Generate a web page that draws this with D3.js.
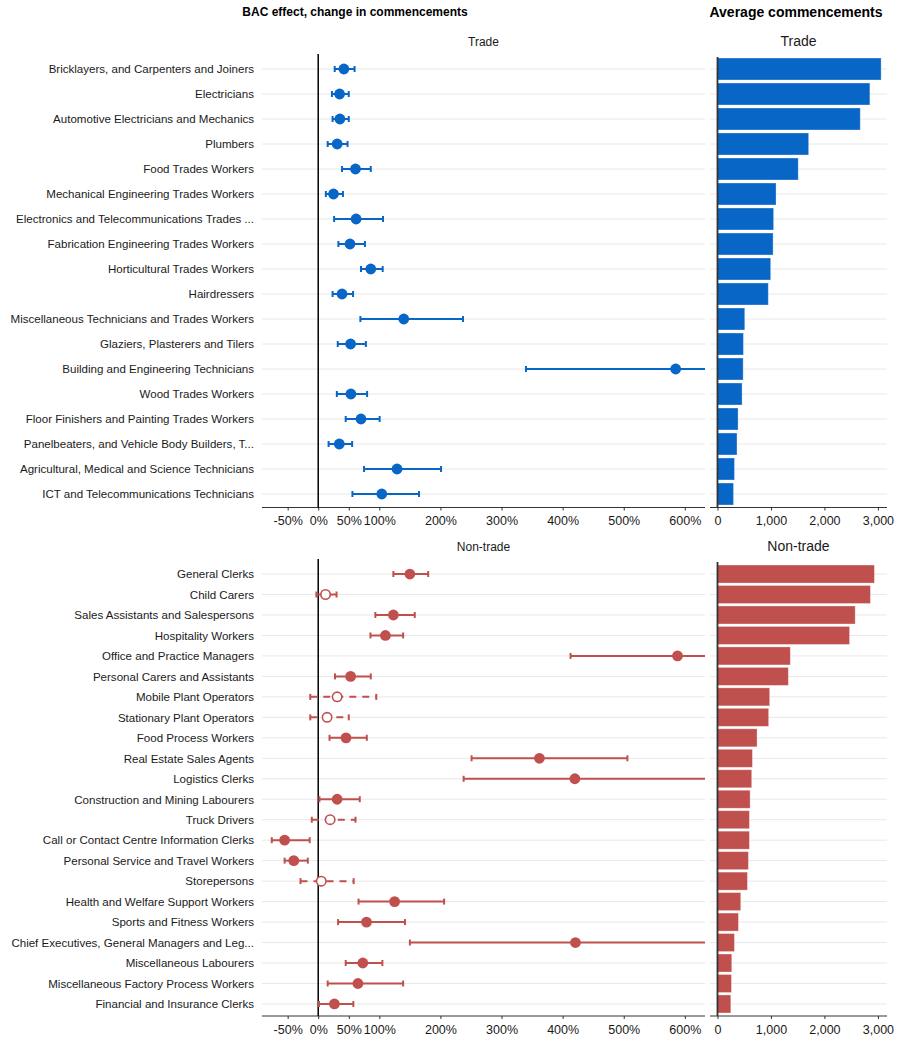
<!DOCTYPE html>
<html>
<head>
<meta charset="utf-8">
<script src="https://cdn.jsdelivr.net/npm/d3@7"></script>
<style>
  body { margin: 0; background: #fff; }
  svg { font-family: Arial, "Liberation Sans", sans-serif; }
</style>
</head>
<body>
<div id="chart"></div>
<script>
// ---- data ----
const tradeCats = [
  "Bricklayers, and Carpenters and Joiners",
  "Electricians",
  "Automotive Electricians and Mechanics",
  "Plumbers",
  "Food Trades Workers",
  "Mechanical Engineering Trades Workers",
  "Electronics and Telecommunications Trades ...",
  "Fabrication Engineering Trades Workers",
  "Horticultural Trades Workers",
  "Hairdressers",
  "Miscellaneous Technicians and Trades Workers",
  "Glaziers, Plasterers and Tilers",
  "Building and Engineering Technicians",
  "Wood Trades Workers",
  "Floor Finishers and Painting Trades Workers",
  "Panelbeaters, and Vehicle Body Builders, T...",
  "Agricultural, Medical and Science Technicians",
  "ICT and Telecommunications Technicians"
];
const tradeEst = [42, 35, 35.5, 31, 61, 25, 62, 52, 86, 39, 140, 53, 585, 53.5, 70, 34.5, 129, 104];
const tradeLo  = [27, 22.5, 23.5, 15.5, 39, 12.5, 26, 33, 70, 23.5, 69, 32, 340, 30.5, 45, 17, 75, 56];
const tradeHi  = [59.5, 50, 50, 48, 86, 40.5, 106, 76.5, 105.5, 57, 237, 78, 830, 80, 100.5, 55.5, 201, 165];
const tradeAvg = [3060, 2850, 2670, 1705, 1510, 1095, 1050, 1040, 995, 950, 510, 485, 480, 460, 385, 365, 318, 300];

const nontradeCats = [
  "General Clerks",
  "Child Carers",
  "Sales Assistants and Salespersons",
  "Hospitality Workers",
  "Office and Practice Managers",
  "Personal Carers and Assistants",
  "Mobile Plant Operators",
  "Stationary Plant Operators",
  "Food Process Workers",
  "Real Estate Sales Agents",
  "Logistics Clerks",
  "Construction and Mining Labourers",
  "Truck Drivers",
  "Call or Contact Centre Information Clerks",
  "Personal Service and Travel Workers",
  "Storepersons",
  "Health and Welfare Support Workers",
  "Sports and Fitness Workers",
  "Chief Executives, General Managers and Leg...",
  "Miscellaneous Labourers",
  "Miscellaneous Factory Process Workers",
  "Financial and Insurance Clerks"
];
const nontradeEst = [150, 12, 123, 110, 588, 53, 31, 14.5, 45.5, 362, 420, 31, 19.5, -55, -40, 5, 125, 79, 421, 73, 65, 26.5];
const nontradeLo  = [123, -3, 93.5, 85.5, 413, 27.5, -13, -13, 18.5, 251, 238, 2, -10.5, -76, -55, -29, 66, 32.5, 150, 45, 15.5, 1.3];
const nontradeHi  = [180, 30, 158, 139, 780, 86, 95, 50, 79.5, 506, 720, 68, 61, -14, -17, 58, 206, 142, 700, 105, 139, 57.5];
const nontradeAvg = [2935, 2860, 2575, 2470, 1362, 1325, 976, 957, 740, 653, 640, 610, 597, 597, 578, 560, 435, 392, 317, 267, 261, 249];

const effectTicks = [-50, 0, 50, 100, 200, 300, 400, 500, 600];
const avgTicks = [0, 1000, 2000, 3000];

const blue = "#0866c6";
const red = "#c0504d";
const gridCol = "#e8e8e8";

const width = 902, height = 1043;

const svg = d3.select("#chart").append("svg")
  .attr("width", width)
  .attr("height", height);

// scales shared by both facets
const x = d3.scaleLinear().domain([-92, 633]).range([262, 705]);
const xb = d3.scaleLinear().domain([-140, 3170]).range([710, 887]);

// titles
svg.append("text")
  .attr("x", 355).attr("y", 16)
  .attr("text-anchor", "middle")
  .style("font-size", "12px").style("font-weight", "bold")
  .text("BAC effect, change in commencements");

svg.append("text")
  .attr("x", 796).attr("y", 17)
  .attr("text-anchor", "middle")
  .style("font-size", "14px").style("font-weight", "bold")
  .text("Average commencements");

svg.append("defs").append("clipPath")
  .attr("id", "clipL")
  .append("rect")
  .attr("x", 262).attr("y", 0).attr("width", 443).attr("height", height);

const drawFacet = (cats, est, lo, hi, avg, color, yRange, panelTop, axisY, label) => {
  const rows = cats.map((c, i) => ({ cat: c, est: est[i], lo: lo[i], hi: hi[i], avg: avg[i] }));

  const y = d3.scaleBand().domain(cats).range(yRange).padding(0);
  const yc = (d) => y(d) + y.bandwidth() / 2;

  // facet labels
  svg.append("text")
    .attr("x", (x.range()[0] + x.range()[1]) / 2).attr("y", panelTop - 8)
    .attr("text-anchor", "middle")
    .style("font-size", "12px").attr("fill", "#1a1a1a")
    .text(label);
  svg.append("text")
    .attr("x", (xb.range()[0] + xb.range()[1]) / 2).attr("y", panelTop - 8)
    .attr("text-anchor", "middle")
    .style("font-size", "14px").attr("fill", "#1a1a1a")
    .text(label);

  // grid lines
  const g = svg.append("g");
  g.selectAll(".gridL").data(cats).enter().append("line")
    .attr("x1", x.range()[0]).attr("x2", x.range()[1])
    .attr("y1", yc).attr("y2", yc)
    .attr("stroke", gridCol).attr("stroke-width", 1);
  g.selectAll(".gridR").data(cats).enter().append("line")
    .attr("x1", xb.range()[0]).attr("x2", xb.range()[1])
    .attr("y1", yc).attr("y2", yc)
    .attr("stroke", gridCol).attr("stroke-width", 1);

  // category labels
  g.selectAll(".lab").data(cats).enter().append("text")
    .attr("x", 254).attr("y", yc).attr("dy", "0.37em")
    .attr("text-anchor", "end")
    .style("font-size", "11.55px").attr("fill", "#1a1a1a")
    .text((d) => d);

  // x axes
  const xAxis = d3.axisBottom(x).tickValues(effectTicks).tickSize(3).tickFormat((d) => d + "%");
  const ax = svg.append("g").attr("transform", "translate(0," + axisY + ")").call(xAxis);
  ax.select(".domain").attr("stroke", "#333").attr("d", "M" + x.range()[0] + ",0H" + x.range()[1]);
  ax.selectAll(".tick line").attr("stroke", "#333");
  ax.selectAll("text").style("font-size", "12.5px").attr("fill", "#1a1a1a").attr("dy", "0.95em");

  const bAxis = d3.axisBottom(xb).tickValues(avgTicks).tickSize(3).tickFormat(d3.format(","));
  const bx = svg.append("g").attr("transform", "translate(0," + axisY + ")").call(bAxis);
  bx.select(".domain").attr("stroke", "#333").attr("d", "M" + xb.range()[0] + ",0H" + xb.range()[1]);
  bx.selectAll(".tick line").attr("stroke", "#333");
  bx.selectAll("text").style("font-size", "12.5px").attr("fill", "#1a1a1a").attr("dy", "0.95em");

  // zero line for effects
  svg.append("line")
    .attr("x1", x(0)).attr("x2", x(0))
    .attr("y1", panelTop).attr("y2", axisY)
    .attr("stroke", "#000").attr("stroke-width", 1.5);

  // error bars + points
  const pts = svg.append("g").attr("clip-path", "url(#clipL)");
  const sig = (d) => d.lo > 0 || d.hi < 0;
  const capH = 3;

  const eb = pts.selectAll(".eb").data(rows).enter().append("g").attr("class", "eb");
  eb.append("line")
    .attr("x1", (d) => x(d.lo)).attr("x2", (d) => x(d.hi))
    .attr("y1", (d) => yc(d.cat)).attr("y2", (d) => yc(d.cat))
    .attr("stroke", color).attr("stroke-width", 2)
    .attr("stroke-dasharray", (d) => (sig(d) ? null : "7,6"));
  eb.append("line")
    .attr("x1", (d) => x(d.lo)).attr("x2", (d) => x(d.lo))
    .attr("y1", (d) => yc(d.cat) - capH).attr("y2", (d) => yc(d.cat) + capH)
    .attr("stroke", color).attr("stroke-width", 2);
  eb.append("line")
    .attr("x1", (d) => x(d.hi)).attr("x2", (d) => x(d.hi))
    .attr("y1", (d) => yc(d.cat) - capH).attr("y2", (d) => yc(d.cat) + capH)
    .attr("stroke", color).attr("stroke-width", 2);
  eb.append("circle")
    .attr("cx", (d) => x(d.est)).attr("cy", (d) => yc(d.cat))
    .attr("r", (d) => (sig(d) ? 5.4 : 4.7))
    .attr("fill", (d) => (sig(d) ? color : "#fff"))
    .attr("stroke", color).attr("stroke-width", (d) => (sig(d) ? 0 : 1.6));

  // average commencement bars
  const bh = y.bandwidth() * 0.88;
  svg.append("g").selectAll("rect").data(rows).enter().append("rect")
    .attr("x", xb(0)).attr("y", (d) => yc(d.cat) - bh / 2)
    .attr("width", (d) => xb(d.avg) - xb(0)).attr("height", bh)
    .attr("fill", color)
    .attr("stroke", "#fff").attr("stroke-opacity", 0.4).attr("stroke-width", 0.8);

  svg.append("line")
    .attr("x1", xb(0)).attr("x2", xb(0))
    .attr("y1", panelTop + 3).attr("y2", axisY)
    .attr("stroke", "#333").attr("stroke-width", 1.8);
};

drawFacet(tradeCats, tradeEst, tradeLo, tradeHi, tradeAvg, blue, [56.5, 506.5], 54, 507.5, "Trade");
drawFacet(nontradeCats, nontradeEst, nontradeLo, nontradeHi, nontradeAvg, red, [563.8, 1014.2], 559, 1016, "Non-trade");
</script>
</body>
</html>
